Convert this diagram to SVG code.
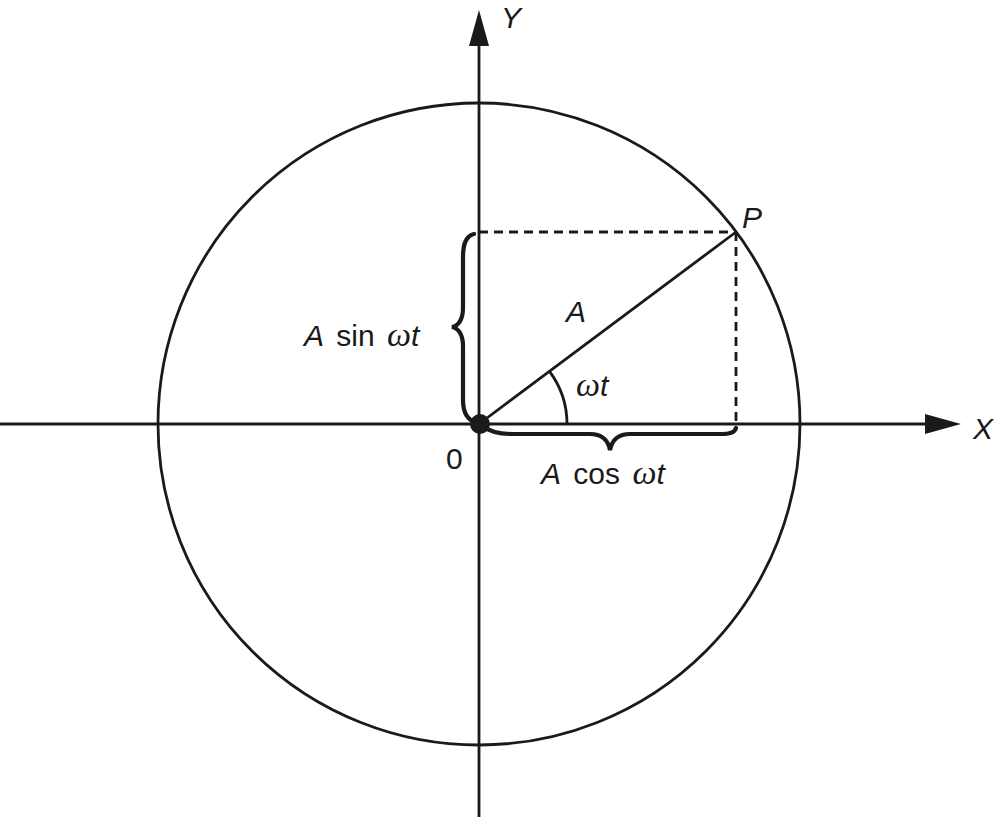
<svg xmlns="http://www.w3.org/2000/svg" width="996" height="817" viewBox="0 0 996 817">
<style>
.ln{stroke:#1a1a1a;stroke-width:2.8;fill:none}
.dash{stroke:#1a1a1a;stroke-width:2.8;fill:none;stroke-dasharray:9,6}
.brace{stroke:#1a1a1a;stroke-width:4.2;fill:none;stroke-linecap:round}
text{font-family:"Liberation Sans",Arial,sans-serif;font-size:30px;fill:#1a1a1a}
.it{font-style:italic}
.om{font-family:"Liberation Serif","Times New Roman",serif;font-style:italic;font-size:34px}
.lbl{word-spacing:4px}
</style>
<rect width="996" height="817" fill="#fff"/>
<g id="connectors">
<circle class="ln" cx="479" cy="424" r="321"/>
<line class="ln" x1="479" y1="40" x2="479" y2="817"/>
<polygon points="479,10 469,46 489,46" fill="#1a1a1a"/>
<line class="ln" x1="0" y1="424" x2="930" y2="424"/>
<polygon points="961,424 925,414 925,434" fill="#1a1a1a"/>
<line class="dash" x1="479" y1="232" x2="736" y2="232"/>
<line class="dash" x1="736" y1="232" x2="736" y2="424"/>
<line class="ln" x1="479" y1="424" x2="736" y2="232"/>
<path class="ln" d="M567,424 A88,88 0 0 0 549.5,371.3"/>
<path class="brace" d="M474,234 C464,236 463,248 463,258 L463,308 C463,320 458,326 452,327 C458,328 463,334 463,346 L463,400 C463,414 468,420 478,424"/>
<path class="brace" d="M482,426 C490,432 500,434 512,434 L590,434 C602,434 608,440 610,450 C612,440 618,434 630,434 L722,434 C730,434 735,432 736,428"/>
</g>
<g id="origin">
<circle cx="480" cy="424" r="10" fill="#1a1a1a"/>
<text x="446" y="469">0</text>
</g>
<g id="axis-y"><text class="it" x="501" y="28">Y</text></g>
<g id="axis-x"><text class="it" x="973" y="439">X</text></g>
<g id="point-p"><text class="it" x="742" y="228">P</text></g>
<g id="label-a"><text class="it" x="566" y="322">A</text></g>
<g id="label-wt"><text x="576" y="396"><tspan class="om">ω</tspan><tspan class="it">t</tspan></text></g>
<g id="label-sin"><text class="lbl" x="304" y="346"><tspan class="it">A</tspan> sin <tspan class="om">ω</tspan><tspan class="it">t</tspan></text></g>
<g id="label-cos"><text class="lbl" x="541" y="484"><tspan class="it">A</tspan> cos <tspan class="om">ω</tspan><tspan class="it">t</tspan></text></g>
</svg>
